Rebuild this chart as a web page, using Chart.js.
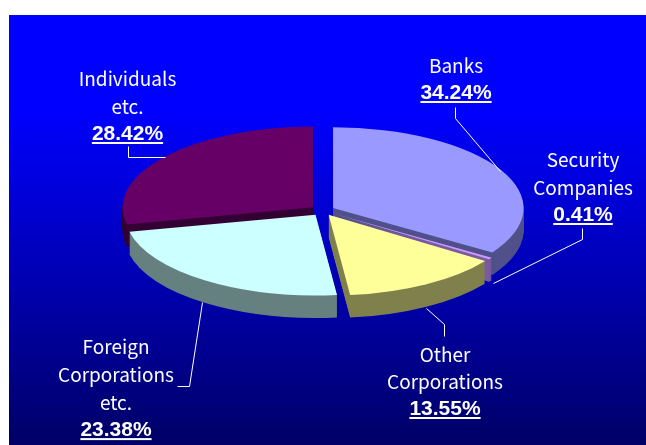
<!DOCTYPE html>
<html>
<head>
<meta charset="utf-8">
<style>
html,body{margin:0;padding:0;background:#fff;overflow:hidden}
#wrap{position:absolute;left:0;top:0;width:646px;height:445px}
</style>
<script src="https://cdn.jsdelivr.net/npm/chart.js@4"></script>
</head>
<body>
<div id="wrap"><canvas id="c" width="646" height="445"></canvas></div>
<script>
const categories = ['Banks', 'Security Companies', 'Other Corporations', 'Foreign Corporations etc.', 'Individuals etc.'];
const shares = [34.24, 0.41, 13.55, 23.38, 28.42];
const topColors = ['#9999FF', '#CC99FF', '#FFFF99', '#CCFFFF', '#660066'];
const wallColors = ['#50508A', '#7A5AA0', '#80804D', '#668080', '#330033'];
const labelLines = [['Banks'], ['Security', 'Companies'], ['Other', 'Corporations'], ['Foreign', 'Corporations', 'etc.'], ['Individuals', 'etc.']];

// style and layout constants
const squash = 0.424, depth = 22.5, explode = 12, centerY = 210.5;
const paintOrder = [0, 4, 1, 2, 3];
const labelCenters = [456, 583, 445, 116, 127.5];
const labelFirstY = [66, 160, 355, 347, 79];
const labelStep = [27, 27.5, 27, 27.7, 27.5];
const leaders = [
  [[455,107],[455,118],[500,171]],
  [[582,228],[582,239],[493,283]],
  [[444,336],[444,324],[426,308]],
  [[177,386],[189,386],[202,302]],
  [[128,146],[128,157],[165,157]]
];

const pie3d = {
  id: 'pie3d',
  beforeDraw(chart) {
    const ctx = chart.ctx;
    ctx.save();
    ctx.fillStyle = '#fff';
    ctx.fillRect(0, 0, 646, 445);
    const g = ctx.createLinearGradient(0, 15, 0, 445);
    g.addColorStop(0, '#0000FF');
    g.addColorStop(0.22, '#0000FF');
    g.addColorStop(1, '#000066');
    ctx.fillStyle = g;
    ctx.fillRect(9, 15, 637, 430);
    ctx.restore();
  },
  beforeDatasetsDraw(chart) {
    const ctx = chart.ctx;
    const arcs = chart.getDatasetMeta(0).data;
    const place = (el, dy) => {
      const mid = (el.startAngle + el.endAngle) / 2;
      ctx.translate(0, centerY + dy);
      ctx.scale(1, squash);
      ctx.translate(0, -el.y);
      ctx.translate(Math.cos(mid) * explode, Math.sin(mid) * explode);
    };
    paintOrder.forEach(i => {
      const el = arcs[i];
      const wall = Object.create(el);
      wall.options = Object.assign({}, el.options, { backgroundColor: wallColors[i] });
      for (let dy = depth; dy >= 1; dy--) {
        ctx.save();
        place(el, dy);
        wall.draw(ctx);
        ctx.restore();
      }
      ctx.save();
      place(el, 0);
      el.draw(ctx);
      ctx.restore();
    });
    return false;
  },
  afterDraw(chart) {
    const ctx = chart.ctx;
    ctx.save();
    ctx.strokeStyle = '#fff';
    ctx.lineWidth = 1;
    leaders.forEach(pts => {
      ctx.beginPath();
      pts.forEach((p, k) => k ? ctx.lineTo(p[0] + .5, p[1] + .5) : ctx.moveTo(p[0] + .5, p[1] + .5));
      ctx.stroke();
    });
    ctx.fillStyle = '#fff';
    ctx.textAlign = 'center';
    ctx.textBaseline = 'middle';
    labelLines.forEach((lines, i) => {
      const x = labelCenters[i];
      ctx.font = '19px "Noto Sans CJK JP", "Noto Sans", sans-serif';
      lines.forEach((t, k) => ctx.fillText(t, x, labelFirstY[i] + k * labelStep[i]));
      const y = labelFirstY[i] + lines.length * labelStep[i];
      const pct = shares[i].toFixed(2) + '%';
      ctx.font = 'bold 21px "Liberation Sans", sans-serif';
      ctx.fillText(pct, x, y);
      const w = ctx.measureText(pct).width;
      ctx.fillRect(x - w / 2, y + 8, w, 2);
    });
    ctx.restore();
  }
};

new Chart(document.getElementById('c'), {
  type: 'pie',
  data: {
    labels: categories,
    datasets: [{ data: shares, backgroundColor: topColors, borderWidth: 0 }]
  },
  options: {
    responsive: false,
    animation: false,
    rotation: 0,
    layout: { padding: { top: 32, bottom: 32, left: 0, right: 1 } },
    plugins: { legend: { display: false }, tooltip: { enabled: false } }
  },
  plugins: [pie3d]
});
</script>
</body>
</html>
